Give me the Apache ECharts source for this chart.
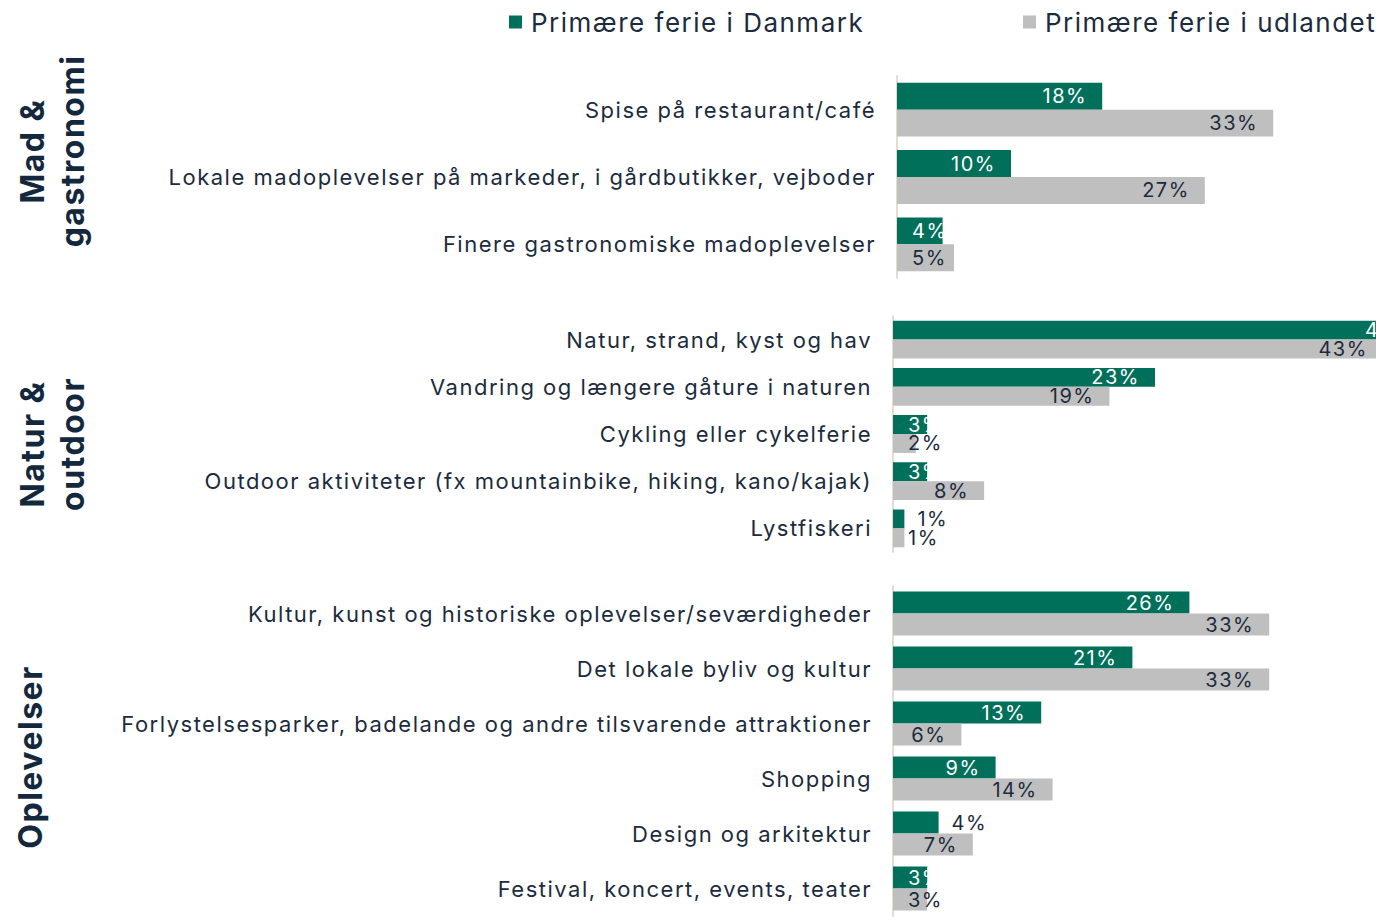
<!DOCTYPE html>
<html>
<head>
<meta charset="utf-8">
<script src="https://cdn.jsdelivr.net/npm/echarts@6/dist/echarts.min.js"></script>
<style>
  html, body { margin: 0; padding: 0; background: #fff; }
  #chart { width: 1376px; height: 917px; letter-spacing: 1.5px; }
</style>
</head>
<body>
<div id="chart"></div>
<script>
// Mad & gastronomi
const madCats = ['Spise på restaurant/café', 'Lokale madoplevelser på markeder, i gårdbutikker, vejboder', 'Finere gastronomiske madoplevelser']
const madDK = [18, 10, 4]
const madUD = [33, 27, 5]

// Natur & outdoor
const naturCats = ['Natur, strand, kyst og hav', 'Vandring og længere gåture i naturen', 'Cykling eller cykelferie', 'Outdoor aktiviteter (fx mountainbike, hiking, kano/kajak)', 'Lystfiskeri']
const naturDK = [47, 23, 3, 3, 1]
const naturUD = [43, 19, 2, 8, 1]

// Oplevelser
const oplCats = ['Kultur, kunst og historiske oplevelser/seværdigheder', 'Det lokale byliv og kultur', 'Forlystelsesparker, badelande og andre tilsvarende attraktioner', 'Shopping', 'Design og arkitektur', 'Festival, koncert, events, teater']
const oplDK = [26, 21, 13, 9, 4, 3]
const oplUD = [33, 33, 6, 14, 7, 3]

const groupTitles = ['Mad &\ngastronomi', 'Natur &\noutdoor', 'Oplevelser']
const seriesNames = ['Primære ferie i Danmark', 'Primære ferie i udlandet']
// kategorier hvor DK-etiketten står uden for søjlen
const outsideDK = ['Lystfiskeri', 'Design og arkitektur']

const GREEN = '#00705a'
const GREY = '#bfbfbf'
const NAVY = '#1c2b3d'
const AXIS = '#e3dccf'
const FONT = 'Inter'

const chart = echarts.init(document.getElementById('chart'), null, { renderer: 'svg' })

function items(cats, vals, dk) {
  return vals.map((v, i) => {
    const it = { value: v }
    if (dk && outsideDK.includes(cats[i])) {
      it.label = { position: 'right', color: NAVY, distance: 13 }
    } else if (v <= 5) {
      it.label = { position: 'insideLeft', distance: 15 }
    }
    return it
  })
}

// ca. 11,4 px pr. procentpoint i alle tre paneler
const groups = [
  { cats: madCats, dk: madDK, ud: madUD, max: 40 },
  { cats: naturCats, dk: naturDK, ud: naturUD, max: 42.4 },
  { cats: oplCats, dk: oplDK, ud: oplUD, max: 40 }
]

const grids = [
  { left: 897, top: 76, width: 456, height: 202 },
  { left: 893, top: 316, width: 483, height: 236 },
  { left: 893, top: 586, width: 456, height: 330 }
]

const xAxes = [], yAxes = [], series = []
groups.forEach((g, k) => {
  xAxes.push({ type: 'value', gridIndex: k, min: 0, max: g.max, show: false })
  yAxes.push({
    type: 'category', gridIndex: k, inverse: true, data: g.cats,
    axisLine: { lineStyle: { color: AXIS, width: 2 } },
    axisTick: { length: 5, lineStyle: { color: AXIS, width: 2 } },
    axisLabel: { margin: 21, fontSize: 22, color: NAVY, fontFamily: FONT }
  })
  const base = {
    type: 'bar', xAxisIndex: k, yAxisIndex: k,
    barCategoryGap: '20%', barGap: '0%',
    clip: false, animation: false
  }
  series.push(Object.assign({}, base, {
    name: seriesNames[0],
    data: items(g.cats, g.dk, true),
    itemStyle: { color: GREEN },
    label: { show: true, position: 'insideRight', distance: 15, formatter: '{c}%', color: '#fff', fontSize: 20, fontFamily: FONT }
  }))
  series.push(Object.assign({}, base, {
    name: seriesNames[1],
    data: items(g.cats, g.ud, false),
    itemStyle: { color: GREY },
    label: { show: true, position: 'insideRight', distance: 15, formatter: '{c}%', color: NAVY, fontSize: 20, fontFamily: FONT }
  }))
})

const legendBase = {
  top: 4, icon: 'rect', itemWidth: 13, itemHeight: 13,
  textStyle: { fontSize: 26, color: NAVY, fontFamily: FONT, padding: [0, 0, 0, 4] }
}

const titleStyle = { font: 'bold 32px ' + FONT, fill: '#13283d', align: 'center', verticalAlign: 'middle', lineHeight: 40 }

chart.setOption({
  backgroundColor: '#ffffff',
  animation: false,
  legend: [
    Object.assign({}, legendBase, { left: 504, data: [seriesNames[0]] }),
    Object.assign({}, legendBase, { left: 1018, data: [seriesNames[1]] })
  ],
  grid: grids,
  xAxis: xAxes,
  yAxis: yAxes,
  series: series,
  graphic: [
    { type: 'text', x: 52, y: 151, rotation: Math.PI / 2, style: Object.assign({ text: groupTitles[0] }, titleStyle) },
    { type: 'text', x: 52, y: 444, rotation: Math.PI / 2, style: Object.assign({ text: groupTitles[1] }, titleStyle) },
    { type: 'text', x: 30, y: 757, rotation: Math.PI / 2, style: Object.assign({ text: groupTitles[2] }, titleStyle) }
  ]
})
</script>
</body>
</html>
